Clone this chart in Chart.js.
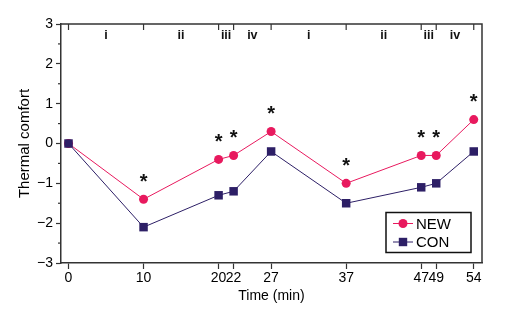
<!DOCTYPE html>
<html>
<head>
<meta charset="utf-8">
<script src="https://cdn.jsdelivr.net/npm/chart.js@4.4.0/dist/chart.umd.min.js"></script>
<style>
  html, body { margin: 0; padding: 0; background: #fff; }
  #wrap { width: 509px; height: 326px; }
</style>
</head>
<body>
<div id="wrap"><canvas id="comfortChart"></canvas></div>
<script>
// data
const times = [0, 10, 20, 22, 27, 37, 47, 49, 54];
const newValues = [0, -1.4, -0.4, -0.3, 0.3, -1.0, -0.3, -0.3, 0.6];
const conValues = [0, -2.1, -1.3, -1.2, -0.2, -1.5, -1.1, -1.0, -0.2];
const significant = [false, true, true, true, true, true, true, true, true];
const phaseLabels = ['i', 'ii', 'iii', 'iv', 'i', 'ii', 'iii', 'iv'];
const yTicks = [-3, -2, -1, 0, 1, 2, 3];

const PINK = '#e8195e';
const NAVY = '#2d1f66';
const FRAME = '#333333';
const FONT = "'Liberation Sans', Arial, sans-serif";

const toXY = vals => vals.map((v, i) => ({ x: times[i], y: v }));

// frame, top ticks, phase labels, asterisks, axis titles, legend
const extras = {
    id: 'extras',
    afterDatasetsDraw(chart) {
        const { ctx, chartArea: a, scales: { x, y } } = chart;
        ctx.save();

        // top + right edges of the frame
        ctx.strokeStyle = FRAME;
        ctx.lineWidth = 1.5;
        ctx.beginPath();
        ctx.moveTo(a.left, a.top);
        ctx.lineTo(a.right, a.top);
        ctx.lineTo(a.right, a.bottom);
        ctx.stroke();

        // inward ticks on the top edge
        ctx.lineWidth = 1.2;
        times.forEach(t => {
            const px = x.getPixelForValue(t);
            ctx.beginPath();
            ctx.moveTo(px, a.top);
            ctx.lineTo(px, a.top + 6);
            ctx.stroke();
        });

        // minor y ticks
        for (let v = -2.5; v < 3; v += 1) {
            const py = y.getPixelForValue(v);
            ctx.beginPath();
            ctx.moveTo(a.left, py);
            ctx.lineTo(a.left - 3, py);
            ctx.stroke();
        }

        // phase labels between the ticks
        ctx.fillStyle = '#111';
        ctx.font = 'bold 12.5px ' + FONT;
        ctx.textAlign = 'center';
        ctx.textBaseline = 'middle';
        phaseLabels.forEach((lab, i) => {
            const mid = (x.getPixelForValue(times[i]) + x.getPixelForValue(times[i + 1])) / 2;
            ctx.fillText(lab, mid, a.top + 12);
        });

        // significance asterisks above NEW points
        ctx.font = 'bold 20px ' + FONT;
        significant.forEach((s, i) => {
            if (!s) return;
            ctx.fillText('*', x.getPixelForValue(times[i]), y.getPixelForValue(newValues[i]) - 17);
        });

        // axis titles
        ctx.fillStyle = '#000';
        ctx.font = '14px ' + FONT;
        ctx.fillText('Time (min)', (a.left + a.right) / 2, 296);
        ctx.save();
        ctx.font = '15px ' + FONT;
        ctx.translate(25, (a.top + a.bottom) / 2);
        ctx.rotate(-Math.PI / 2);
        ctx.fillText('Thermal comfort', 0, 0);
        ctx.restore();

        // legend
        ctx.strokeStyle = '#111';
        ctx.lineWidth = 1.5;
        ctx.strokeRect(386, 212.5, 85, 40);
        ctx.font = '15px ' + FONT;
        ctx.textAlign = 'left';
        chart.data.datasets.forEach((ds, i) => {
            const cy = 223.5 + i * 18.5;
            ctx.strokeStyle = ds.borderColor;
            ctx.lineWidth = 1;
            ctx.beginPath();
            ctx.moveTo(393, cy);
            ctx.lineTo(413, cy);
            ctx.stroke();
            ctx.fillStyle = ds.backgroundColor;
            if (ds.pointStyle === 'rect') {
                ctx.fillRect(403 - 4.2, cy - 4.2, 8.4, 8.4);
            } else {
                ctx.beginPath();
                ctx.arc(403, cy, 4.5, 0, Math.PI * 2);
                ctx.fill();
            }
            ctx.fillStyle = '#000';
            ctx.fillText(ds.label, 416, cy + 1);
        });

        ctx.restore();
    }
};

new Chart(document.getElementById('comfortChart'), {
    type: 'line',
    data: {
        datasets: [{
            label: 'NEW',
            data: toXY(newValues),
            borderColor: PINK,
            backgroundColor: PINK,
            borderWidth: 1,
            pointStyle: 'circle',
            pointRadius: 4.5,
            pointBorderWidth: 0,
            tension: 0,
            order: 2
        }, {
            label: 'CON',
            data: toXY(conValues),
            borderColor: NAVY,
            backgroundColor: NAVY,
            borderWidth: 1,
            pointStyle: 'rect',
            pointRadius: 6,
            pointBorderWidth: 0,
            tension: 0,
            order: 1
        }]
    },
    options: {
        responsive: true,
        maintainAspectRatio: false,
        animation: false,
        events: [],
        layout: { padding: { left: 0, right: 27, top: 24, bottom: 0 } },
        plugins: { legend: { display: false }, tooltip: { enabled: false } },
        scales: {
            x: {
                type: 'linear',
                min: -1,
                max: 55.1,
                afterBuildTicks: s => { s.ticks = times.map(t => ({ value: t })); },
                afterFit: s => { s.height = 63; },
                grid: { drawOnChartArea: false, tickLength: 6, tickColor: FRAME, tickWidth: 1.2 },
                border: { color: FRAME, width: 1.5 },
                ticks: { color: '#000', font: { family: FONT, size: 14 }, padding: 1, maxRotation: 0, autoSkip: false }
            },
            y: {
                min: -3,
                max: 3,
                afterBuildTicks: s => { s.ticks = yTicks.map(v => ({ value: v })); },
                afterFit: s => { s.width = 61; },
                grid: { drawOnChartArea: false, tickLength: 5, tickColor: FRAME, tickWidth: 1.2 },
                border: { color: FRAME, width: 1.5 },
                ticks: {
                    color: '#000',
                    font: { family: FONT, size: 14 },
                    padding: 3,
                    callback: v => v < 0 ? '\u2212' + Math.abs(v) : String(v)
                }
            }
        }
    },
    plugins: [extras]
});
</script>
</body>
</html>
